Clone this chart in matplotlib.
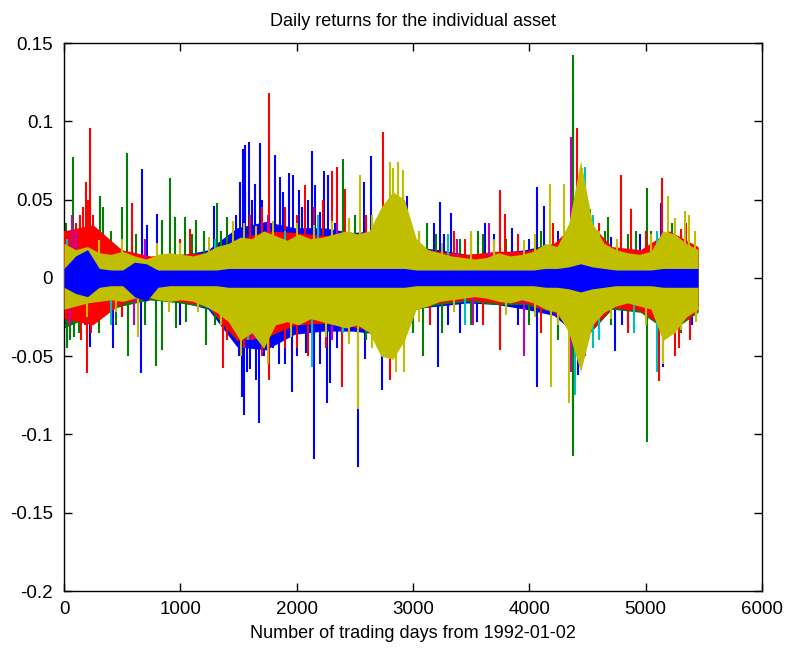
import numpy as np
import matplotlib
matplotlib.use("Agg")
import matplotlib.pyplot as plt
from matplotlib import font_manager

# ---------------- data ----------------
N_DAYS = 5450  # trading days in the sample

# yellow asset: upper / lower envelope of its daily returns (~100-day bins)
yellow_hi = [0.022, 0.018, 0.020, 0.016, 0.015, 0.017, 0.014, 0.012, 0.015, 0.016,
             0.015, 0.014, 0.016, 0.020, 0.022, 0.026, 0.025, 0.030, 0.027, 0.024,
             0.028, 0.025, 0.026, 0.028, 0.030, 0.028, 0.030, 0.045, 0.055, 0.050,
             0.025, 0.018, 0.016, 0.014, 0.013, 0.012, 0.013, 0.016, 0.014, 0.015,
             0.017, 0.022, 0.020, 0.035, 0.075, 0.035, 0.022, 0.018, 0.016, 0.015,
             0.017, 0.030, 0.028, 0.022, 0.018]
yellow_lo = [-0.020, -0.018, -0.016, -0.015, -0.014, -0.015, -0.013, -0.012, -0.014, -0.015,
             -0.014, -0.015, -0.018, -0.022, -0.028, -0.040, -0.035, -0.045, -0.030, -0.028,
             -0.030, -0.026, -0.028, -0.030, -0.032, -0.030, -0.035, -0.050, -0.052, -0.040,
             -0.020, -0.018, -0.015, -0.014, -0.013, -0.012, -0.013, -0.015, -0.016, -0.014,
             -0.016, -0.020, -0.022, -0.035, -0.060, -0.030, -0.022, -0.018, -0.016, -0.018,
             -0.020, -0.040, -0.035, -0.025, -0.020]

# low-volatility blue asset (band around zero, ~100-day bins)
bluesmall_hi = [0.006, 0.014, 0.018, 0.006, 0.005, 0.005, 0.010, 0.009, 0.005, 0.005,
                0.005, 0.005, 0.005, 0.005, 0.006, 0.006, 0.006, 0.006, 0.006, 0.006,
                0.006, 0.006, 0.006, 0.006, 0.006, 0.006, 0.006, 0.006, 0.006, 0.006,
                0.005, 0.005, 0.005, 0.005, 0.005, 0.005, 0.005, 0.005, 0.005, 0.005,
                0.005, 0.006, 0.006, 0.007, 0.009, 0.007, 0.006, 0.005, 0.005, 0.005,
                0.005, 0.006, 0.006, 0.006, 0.006]
bluesmall_lo = [-0.006, -0.010, -0.012, -0.006, -0.005, -0.005, -0.012, -0.015, -0.006, -0.005,
                -0.005, -0.005, -0.005, -0.005, -0.006, -0.006, -0.006, -0.006, -0.006, -0.006,
                -0.006, -0.006, -0.006, -0.006, -0.006, -0.006, -0.006, -0.006, -0.006, -0.006,
                -0.005, -0.005, -0.005, -0.005, -0.005, -0.005, -0.005, -0.005, -0.005, -0.005,
                -0.005, -0.006, -0.006, -0.007, -0.009, -0.007, -0.006, -0.005, -0.005, -0.005,
                -0.005, -0.006, -0.006, -0.006, -0.006]

# other assets: envelopes (~250-day bins)
red_hi = [0.030, 0.034, 0.018, 0.014, 0.015, 0.016, 0.024, 0.030, 0.029, 0.027, 0.028, 0.030,
          0.020, 0.017, 0.015, 0.017, 0.017, 0.022, 0.040, 0.020, 0.018, 0.030, 0.020]
red_lo = [-0.026, -0.030, -0.016, -0.013, -0.015, -0.018, -0.040, -0.038, -0.030, -0.029, -0.031, -0.035,
          -0.020, -0.016, -0.014, -0.016, -0.016, -0.022, -0.040, -0.019, -0.021, -0.034, -0.021]
green_hi = [0.028, 0.020, 0.017, 0.013, 0.015, 0.016, 0.024, 0.028, 0.027, 0.025, 0.028, 0.030,
            0.018, 0.016, 0.014, 0.016, 0.016, 0.021, 0.040, 0.019, 0.017, 0.028, 0.019]
green_lo = [-0.032, -0.024, -0.018, -0.014, -0.016, -0.019, -0.040, -0.038, -0.030, -0.029, -0.031, -0.035,
            -0.021, -0.017, -0.015, -0.017, -0.017, -0.022, -0.040, -0.020, -0.022, -0.035, -0.022]
blue_hi = [0.024, 0.018, 0.014, 0.013, 0.014, 0.018, 0.032, 0.036, 0.032, 0.032, 0.029, 0.030,
           0.020, 0.018, 0.015, 0.016, 0.018, 0.022, 0.030, 0.016, 0.016, 0.022, 0.016]
blue_lo = [-0.022, -0.018, -0.015, -0.014, -0.015, -0.020, -0.044, -0.046, -0.036, -0.034, -0.034, -0.036,
           -0.020, -0.018, -0.016, -0.017, -0.020, -0.024, -0.040, -0.020, -0.020, -0.025, -0.018]

# extreme daily returns (trading day, return)
blue_spikes = [(150, 0.026), (669, 0.0696), (710, 0.034), (800, 0.041), (1290, 0.046), (1513, 0.061),
               (1540, 0.082), (1557, 0.085), (1590, 0.087), (1620, 0.050), (1685, 0.086), (1814, 0.0785),
               (1857, 0.0645), (1934, 0.067), (1970, 0.066), (2020, 0.056), (2132, 0.081), (2160, 0.059),
               (2235, 0.068), (2270, 0.066), (2580, 0.061), (2640, 0.078), (2948, 0.052), (3232, 0.0485),
               (3326, 0.0415), (4066, 0.058), (4130, 0.046), (4375, 0.120), (4430, 0.060), (5130, 0.048),
               (3500, 0.030), (3620, 0.035), (3850, 0.032),
               (60, 0.030), (120, 0.028), (1480, 0.040), (1560, 0.055), (1640, 0.060), (1700, 0.050),
               (1760, 0.045), (1880, 0.055), (1900, 0.040), (2050, 0.045), (2100, 0.050), (2200, 0.042),
               (2330, 0.035), (2450, 0.038), (2700, 0.030), (3050, 0.030), (3180, 0.035), (3270, 0.028),
               (3700, 0.028), (4000, 0.025), (4250, 0.030), (4700, 0.026), (4950, 0.028), (5250, 0.030),
               (223, -0.044), (420, -0.045), (662, -0.061), (1530, -0.076), (1548, -0.0875), (1600, -0.058),
               (1676, -0.0925), (1850, -0.055), (1960, -0.073), (2150, -0.116), (2260, -0.080), (2290, -0.067),
               (2530, -0.1205), (2590, -0.052), (2735, -0.0715), (3217, -0.057), (4066, -0.0695),
               (4375, -0.089), (4420, -0.062), (4740, -0.047), (5150, -0.057), (1000, -0.030), (3400, -0.035),
               (80, -0.030), (1500, -0.050), (1570, -0.060), (1650, -0.065), (1720, -0.050), (1800, -0.045),
               (1900, -0.055), (2000, -0.050), (2080, -0.048), (2200, -0.055), (2350, -0.045), (2450, -0.040),
               (2650, -0.035), (3150, -0.030), (3300, -0.030), (3550, -0.028), (3900, -0.030), (4250, -0.035),
               (4500, -0.040), (4800, -0.030), (5200, -0.035), (5400, -0.030)]
green_spikes = [(75, 0.0775), (309, 0.052), (337, 0.045), (497, 0.045), (542, 0.080), (843, 0.037),
                (911, 0.064), (954, 0.039), (1040, 0.039), (1135, 0.037), (1315, 0.048), (1400, 0.039),
                (2398, 0.076), (4375, 0.1424), (4676, 0.039), (5010, 0.0575), (4520, 0.044), (3120, 0.035),
                (3560, 0.030), (4920, 0.030), (5300, 0.030),
                (20, 0.035), (130, 0.030), (400, 0.030), (620, 0.028), (700, 0.025), (1100, 0.028),
                (1200, 0.030), (1350, 0.030), (1600, 0.035), (2500, 0.040), (3200, 0.028), (3400, 0.025),
                (3600, 0.028), (3800, 0.025), (4100, 0.030), (4550, 0.035), (4650, 0.030), (4850, 0.028),
                (5050, 0.030), (5230, 0.035),
                (50, -0.040), (90, -0.038), (550, -0.050), (791, -0.056), (840, -0.046), (1220, -0.043),
                (3083, -0.050), (4375, -0.114), (5010, -0.105), (300, -0.035), (960, -0.032), (4600, -0.035),
                (30, -0.045), (130, -0.035), (250, -0.030), (450, -0.030), (700, -0.030), (1050, -0.028),
                (1300, -0.030), (2600, -0.040), (3000, -0.035), (3250, -0.035), (3500, -0.030), (4000, -0.030),
                (4250, -0.040), (4700, -0.030), (4900, -0.032), (5300, -0.035)]
red_spikes = [(190, 0.061), (224, 0.096), (583, 0.048), (1083, 0.031), (1762, 0.118), (2072, 0.059),
              (2300, 0.068), (2347, 0.071), (2415, 0.057), (2745, 0.093), (3748, 0.056), (3790, 0.041),
              (4407, 0.096), (4788, 0.066), (4870, 0.044), (5140, 0.064), (5300, 0.031), (160, 0.045),
              (250, 0.040),
              (10, 0.030), (100, 0.035), (140, 0.040), (210, 0.050), (300, 0.030), (700, 0.025),
              (1000, 0.025), (1600, 0.040), (1700, 0.045), (1900, 0.045), (2000, 0.040), (2150, 0.045),
              (2230, 0.050), (2600, 0.040), (3350, 0.030), (3450, 0.025), (3900, 0.028), (4200, 0.035),
              (4600, 0.035), (5000, 0.030), (5350, 0.035),
              (195, -0.061), (1367, -0.0575), (1762, -0.065), (2390, -0.0695), (2800, -0.065),
              (3748, -0.046), (5116, -0.066), (5290, -0.045), (180, -0.030), (2100, -0.050),
              (40, -0.030), (150, -0.040), (230, -0.035), (500, -0.025), (1400, -0.040), (1550, -0.045),
              (1700, -0.050), (1900, -0.045), (2000, -0.045), (2250, -0.045), (2700, -0.045), (3150, -0.030),
              (3600, -0.030), (4100, -0.035), (4450, -0.045), (4850, -0.035), (5250, -0.050), (5380, -0.040)]
cyan_spikes = [(4480, 0.071), (3300, 0.028), (2180, 0.040),
               (30, 0.025), (1300, 0.025), (1900, 0.030), (2700, 0.030), (3700, 0.025), (4550, 0.040),
               (5100, 0.030),
               (2130, -0.057), (4390, -0.075), (4600, -0.040), (5100, -0.060),
               (400, -0.030), (1580, -0.040), (2400, -0.035), (3450, -0.030), (4550, -0.045), (4900, -0.035)]
magenta_spikes = [(4357, 0.090), (70, 0.040), (3650, 0.035),
                  (100, 0.030), (700, 0.025), (1750, 0.040), (2350, 0.035), (3380, 0.025), (4420, 0.050),
                  (2300, -0.040), (4360, -0.060), (3950, -0.050),
                  (50, -0.030), (600, -0.030), (1620, -0.040), (2450, -0.038), (3520, -0.030), (4480, -0.050)]
yellow_spikes = [(2545, 0.066), (2802, 0.074), (2870, 0.074), (2910, 0.069), (2830, 0.070), (4178, 0.060),
                 (5190, 0.052), (5338, 0.043), (5370, 0.040), (4300, 0.060), (4450, 0.070), (3500, 0.030),
                 (1450, 0.036),
                 (300, 0.024), (500, 0.025), (800, 0.022), (1000, 0.022), (1250, 0.026), (1550, 0.035),
                 (1650, 0.033), (1800, 0.036), (2000, 0.035), (2150, 0.034), (2300, 0.036), (2450, 0.038),
                 (2650, 0.040), (3050, 0.030), (3250, 0.022), (3700, 0.024), (3950, 0.024), (4050, 0.028),
                 (4600, 0.030), (4750, 0.025), (5050, 0.028), (5250, 0.038), (5420, 0.030),
                 (640, -0.038), (2530, -0.084), (2920, -0.060), (4185, -0.070), (2850, -0.060),
                 (5150, -0.055), (4340, -0.080),
                 (200, -0.025), (450, -0.022), (900, -0.022), (1150, -0.022), (1350, -0.030), (1520, -0.050),
                 (1750, -0.055), (1950, -0.038), (2250, -0.038), (2450, -0.042), (2650, -0.045), (3050, -0.028),
                 (3350, -0.022), (3800, -0.024), (4050, -0.025), (4250, -0.030), (4500, -0.040), (4700, -0.026),
                 (5000, -0.030), (5300, -0.033), (5430, -0.028)]

x_ticks = [0, 1000, 2000, 3000, 4000, 5000, 6000]
y_ticks = [-0.2, -0.15, -0.1, -0.05, 0, 0.05, 0.1, 0.15]
y_tick_labels = ["-0.2", "-0.15", "-0.1", "-0.05", "0", "0.05", "0.1", "0.15"]
title = "Daily returns for the individual asset"
xlabel = "Number of trading days from 1992-01-02"

# ---------------- styling ----------------
C_BLUE = (0.0, 0.0, 1.0)
C_GREEN = (0.0, 0.5, 0.0)
C_RED = (1.0, 0.0, 0.0)
C_CYAN = (0.0, 0.75, 0.75)
C_MAGENTA = (0.75, 0.0, 0.75)
C_YELLOW = (0.75, 0.75, 0.0)

names = {f.name for f in font_manager.fontManager.ttflist}
font = "Liberation Sans" if "Liberation Sans" in names else "DejaVu Sans"
plt.rcParams["font.family"] = [font, "DejaVu Sans"]

fig = plt.figure(figsize=(7.86, 6.49), dpi=100)
ax = fig.add_axes([64 / 786, 58 / 649, 698 / 786, 548 / 649])


def band(hi, lo, color, z):
    d = np.linspace(0, N_DAYS, len(hi))
    ax.fill_between(d, lo, hi, color=color, lw=0, zorder=z)


def spikes(lst, color, z):
    d = [p[0] for p in lst]
    v = [p[1] for p in lst]
    ax.vlines(d, 0, v, color=color, lw=1.5, zorder=z)


band(blue_hi, blue_lo, C_BLUE, 1)
spikes(blue_spikes, C_BLUE, 1)
band(green_hi, green_lo, C_GREEN, 2)
spikes(green_spikes, C_GREEN, 2)
band(red_hi, red_lo, C_RED, 3)
spikes(red_spikes, C_RED, 3)
spikes(cyan_spikes, C_CYAN, 4)
spikes(magenta_spikes, C_MAGENTA, 5)
band(yellow_hi, yellow_lo, C_YELLOW, 6)
spikes(yellow_spikes, C_YELLOW, 6)
band(bluesmall_hi, bluesmall_lo, C_BLUE, 7)

ax.set_xlim(0, 6000)
ax.set_ylim(-0.2, 0.15)
ax.set_xticks(x_ticks)
ax.set_xticklabels([str(t) for t in x_ticks])
ax.set_yticks(y_ticks)
ax.set_yticklabels(y_tick_labels)
ax.tick_params(direction="in", top=True, right=True, length=6, width=1,
               labelsize=13.5, colors="black")
ax.tick_params(axis="y", pad=8)
ax.tick_params(axis="x", pad=7)
for s in ax.spines.values():
    s.set_linewidth(1.0)
    s.set_color("black")

ax.set_title(title, fontsize=13, pad=12)
ax.set_xlabel(xlabel, fontsize=13, labelpad=5)

fig.savefig("out.png", dpi=100, facecolor="white")
